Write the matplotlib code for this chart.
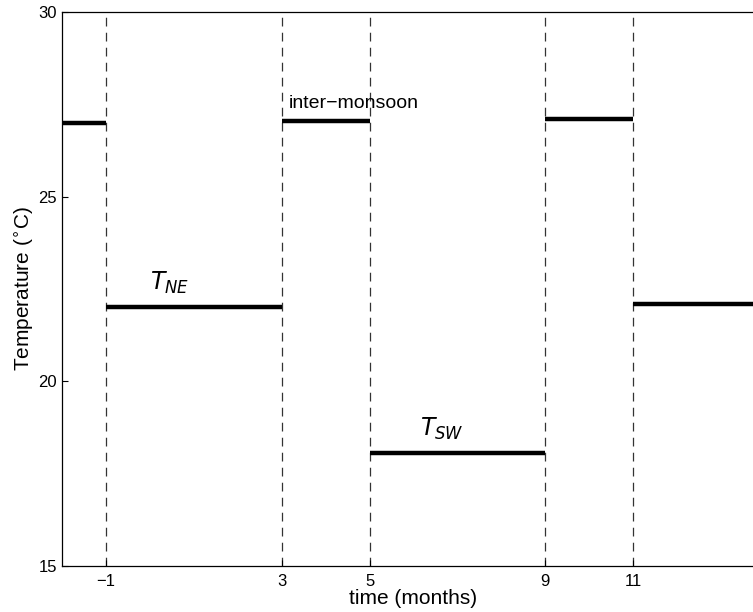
import matplotlib
matplotlib.use("Agg")
import matplotlib.pyplot as plt

plt.rcParams["font.family"] = ["Liberation Sans", "DejaVu Sans"]

# Seasonal temperature steps (months, deg C)
seg_start = [-2, -1, 3, 5, 9, 11]
seg_end = [-1, 3, 5, 9, 11, 14]
seg_temp = [27.0, 22.0, 27.05, 18.05, 27.1, 22.1]

# Season boundaries
boundaries = [-1, 3, 5, 9, 11]
yticks = [15, 20, 25, 30]

fig = plt.figure(figsize=(7.53, 6.12), dpi=100)
ax = fig.add_axes([62 / 753, 1 - 566 / 612, (765 - 62) / 753, (566 - 12) / 612])

for b in boundaries:
    ax.axvline(b, color="#333333", linewidth=0.9, linestyle=(0, (7, 5)), zorder=1)

ax.hlines(seg_temp, seg_start, seg_end, color="black", linewidth=3.2, zorder=2)

ax.text(3.15, 27.3, "inter\u2212monsoon", fontsize=14, ha="left", va="bottom")
ax.text(0.0, 22.3, r"$T_{NE}$", fontsize=17, ha="left", va="bottom")
ax.text(6.15, 18.35, r"$T_{SW}$", fontsize=17, ha="left", va="bottom")

ax.set_xlim(-2, 14)
ax.set_ylim(15, 30)
ax.set_xticks(boundaries)
ax.set_xticklabels(["\u22121", "3", "5", "9", "11"])
ax.set_yticks(yticks)
ax.tick_params(direction="in", length=4, labelsize=12, width=0.8)
ax.tick_params(axis="x", pad=6)
ax.set_xlabel("time (months)", fontsize=15, labelpad=0)
ax.set_ylabel(r"Temperature ($^{\circ}$C)", fontsize=15, labelpad=2)
for s in ax.spines.values():
    s.set_linewidth(0.9)

fig.savefig("out.png", dpi=100)
